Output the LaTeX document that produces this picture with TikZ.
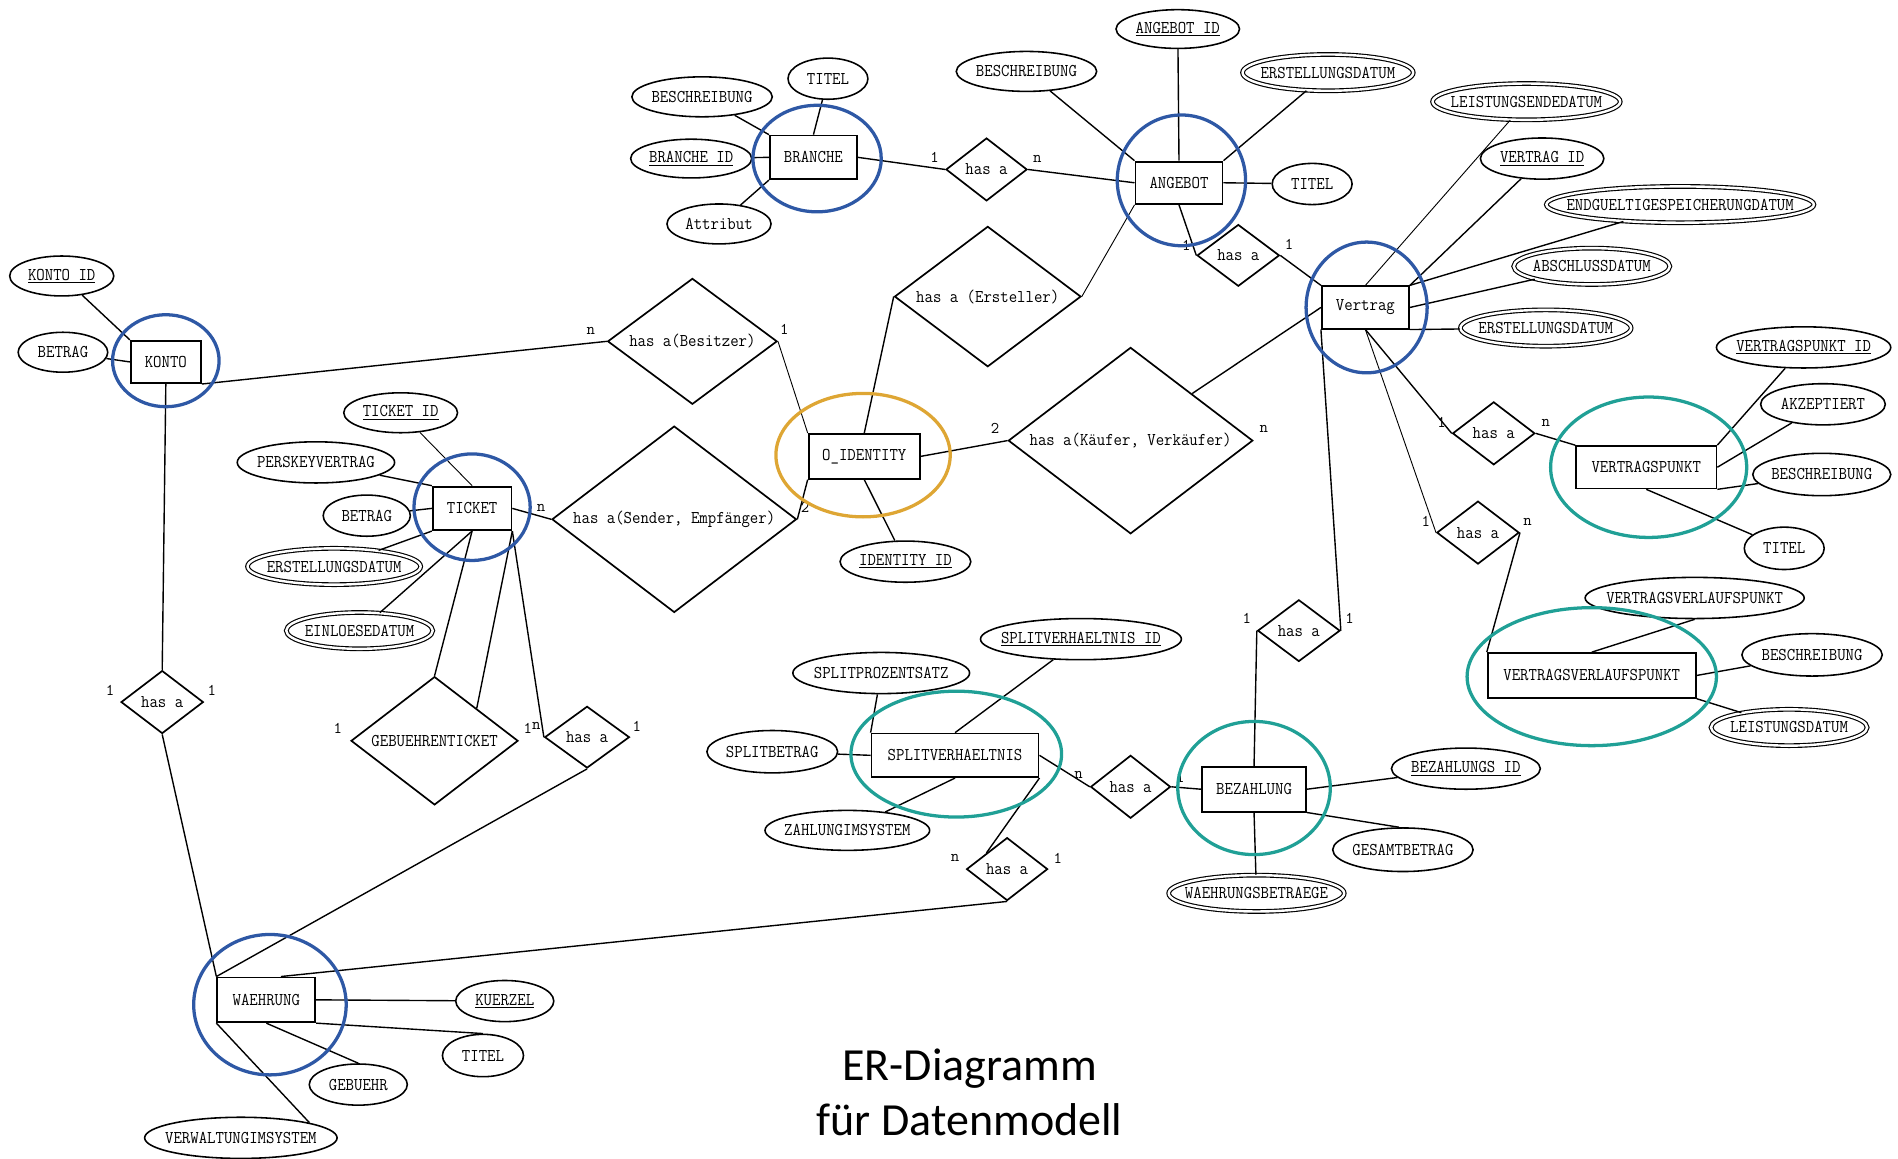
\documentclass[tikz,border=0pt]{standalone}
\usepackage{fontspec}
\usepackage{graphicx}
\newfontfamily\titlefont{Carlito}
\usetikzlibrary{shapes.geometric}
\definecolor{ringblue}{RGB}{46,88,165}
\definecolor{ringteal}{RGB}{32,160,150}
\definecolor{ringgold}{RGB}{222,166,52}
\newcommand\zt[1]{\makebox[0pt]{\scalebox{1}[1.1]{#1}}}
\newcommand\erfont{\ttfamily\fontsize{13.5}{15}\selectfont}
\begin{document}
\begin{tikzpicture}[x=1pt,y=-1pt,
  ent/.style={draw, rectangle, line width=1.5pt, inner sep=0pt, minimum height=35pt, font=\erfont},
  att/.style={draw, ellipse, line width=1.3pt, inner sep=0pt, minimum height=33pt, font=\erfont},
  datt/.style={att, double, double distance=2pt, line width=0.95pt, minimum height=30pt},
  rel/.style={draw, diamond, line width=1.4pt, inner sep=0pt, font=\erfont},
  card/.style={inner sep=0pt, font=\erfont},
  lnk/.style={line width=1.15pt},
  tlnk/.style={line width=0.75pt},
  ring/.style={line width=2.7pt}
]
\useasboundingbox (0,0) rectangle (1568,957);

% KONTO
\node[ent, minimum width=58] (konto) at (137,299) {\zt{KONTO}};
\node[att, minimum width=86] (kontoid) at (51,228) {\zt{\underline{KONTO ID}}};
\node[att, minimum width=74] (kbetrag) at (52,291) {\zt{BETRAG}};
\node[rel, minimum width=68, minimum height=52] (hk) at (134,580) {\zt{has a}};

% BRANCHE
\node[ent, minimum width=72, minimum height=36] (branche) at (672,130) {\zt{BRANCHE}};
\node[att, minimum width=116] (bbesch) at (580,80) {\zt{BESCHREIBUNG}};
\node[att, minimum width=66, minimum height=34] (btitel) at (684,65) {\zt{TITEL}};
\node[att, minimum width=100, minimum height=32] (bid) at (571,131) {\zt{\underline{BRANCHE ID}}};
\node[att, minimum width=86] (battr) at (594,185) {\zt{Attribut}};
\node[rel, minimum width=67, minimum height=52] (hba) at (815,140) {\zt{has a}};

% ANGEBOT
\node[ent, minimum width=72, minimum height=35] (angebot) at (974,151) {\zt{ANGEBOT}};
\node[att, minimum width=102, minimum height=32] (aid) at (973,24) {\zt{\underline{ANGEBOT ID}}};
\node[att, minimum width=116] (abesch) at (848,59) {\zt{BESCHREIBUNG}};
\node[datt, minimum width=141] (aerst) at (1097,60) {\zt{ERSTELLUNGSDATUM}};
\node[att, minimum width=66, minimum height=34] (atitel) at (1084,152) {\zt{TITEL}};
\node[rel, minimum width=68, minimum height=51] (hav) at (1023,211) {\zt{has a}};
\node[rel, minimum width=154, minimum height=116] (erst) at (816,245) {\zt{has a (Ersteller)}};
\node[rel, minimum width=140, minimum height=104] (besitzer) at (572,282) {\zt{has a(Besitzer)}};

% Vertrag
\node[ent, minimum width=72, minimum height=35] (vertrag) at (1128,254) {\zt{Vertrag}};
\node[datt, minimum width=155] (leist) at (1261,84) {\zt{LEISTUNGSENDEDATUM}};
\node[att, minimum width=102, minimum height=34] (vid) at (1274,131) {\zt{\underline{VERTRAG ID}}};
\node[datt, minimum width=221] (endg) at (1388,169) {\zt{ENDGUELTIGESPEICHERUNGDATUM}};
\node[datt, minimum width=129] (absch) at (1315,220) {\zt{ABSCHLUSSDATUM}};
\node[datt, minimum width=141] (verst) at (1277,271) {\zt{ERSTELLUNGSDATUM}};
\node[rel, minimum width=202, minimum height=154] (kv) at (934,364) {\zt{has a(Käufer, Verkäufer)}};

% O_IDENTITY
\node[ent, minimum width=92, minimum height=37] (oid) at (714,377) {\zt{O\_IDENTITY}};
\node[att, minimum width=108, minimum height=34] (identid) at (748,464) {\zt{\underline{IDENTITY ID}}};
\node[rel, minimum width=202, minimum height=154] (sender) at (557,429) {\zt{has a(Sender, Empfänger)}};

% TICKET
\node[ent, minimum width=65, minimum height=36] (ticket) at (390,420) {\zt{TICKET}};
\node[att, minimum width=94] (tid) at (331,341) {\zt{\underline{TICKET ID}}};
\node[att, minimum width=130, minimum height=34] (persk) at (261,382) {\zt{PERSKEYVERTRAG}};
\node[att, minimum width=72, minimum height=34] (tbetrag) at (303,426) {\zt{BETRAG}};
\node[datt, minimum width=143] (terst) at (276,468) {\zt{ERSTELLUNGSDATUM}};
\node[datt, minimum width=121] (einl) at (297,521) {\zt{EINLOESEDATUM}};
\node[rel, minimum width=138, minimum height=106] (geb) at (359,612) {\zt{GEBUEHRENTICKET}};
\node[rel, minimum width=70, minimum height=51] (hst) at (485,609) {\zt{has a}};

% WAEHRUNG
\node[ent, minimum width=81, minimum height=37] (waehrung) at (220,826) {\zt{WAEHRUNG}};
\node[att, minimum width=81, minimum height=34] (kuerzel) at (417,827) {\zt{\underline{KUERZEL}}};
\node[att, minimum width=67, minimum height=35] (wtitel) at (399,872) {\zt{TITEL}};
\node[att, minimum width=81, minimum height=34] (gebuehr) at (296,896) {\zt{GEBUEHR}};
\node[att, minimum width=159, minimum height=34] (verw) at (199,940) {\zt{VERWALTUNGIMSYSTEM}};

% SPLITVERHAELTNIS
\node[ent, minimum width=138, minimum height=36] (split) at (789,624) {\zt{SPLITVERHAELTNIS}};
\node[att, minimum width=166, minimum height=34] (spid) at (893,528) {\zt{\underline{SPLITVERHAELTNIS ID}}};
\node[att, minimum width=146, minimum height=34] (spproz) at (728,556) {\zt{SPLITPROZENTSATZ}};
\node[att, minimum width=108, minimum height=35] (spbetrag) at (638,621) {\zt{SPLITBETRAG}};
\node[att, minimum width=136, minimum height=33] (zahl) at (700,686) {\zt{ZAHLUNGIMSYSTEM}};
\node[rel, minimum width=66, minimum height=52] (hsb) at (934,650) {\zt{has a}};
\node[rel, minimum width=67, minimum height=52] (hsw) at (832,718) {\zt{has a}};

% BEZAHLUNG
\node[ent, minimum width=86, minimum height=37] (bez) at (1036,652) {\zt{BEZAHLUNG}};
\node[att, minimum width=123, minimum height=34] (bezid) at (1211,635) {\zt{\underline{BEZAHLUNGS ID}}};
\node[att, minimum width=116, minimum height=36] (gesamt) at (1159,702) {\zt{GESAMTBETRAG}};
\node[datt, minimum width=145] (wbetr) at (1038,738) {\zt{WAEHRUNGSBETRAEGE}};
\node[rel, minimum width=68, minimum height=51] (hbz) at (1073,521) {\zt{has a}};

% VERTRAGSPUNKT
\node[ent, minimum width=116, minimum height=35] (vp) at (1360,386) {\zt{VERTRAGSPUNKT}};
\node[rel, minimum width=68, minimum height=52] (hvp) at (1234,358) {\zt{has a}};
\node[att, minimum width=144, minimum height=34] (vpid) at (1490,287) {\zt{\underline{VERTRAGSPUNKT ID}}};
\node[att, minimum width=103, minimum height=34] (akz) at (1506,334) {\zt{AKZEPTIERT}};
\node[att, minimum width=114, minimum height=35] (vpb) at (1505,392) {\zt{BESCHREIBUNG}};
\node[att, minimum width=66, minimum height=35] (vpt) at (1474,453) {\zt{TITEL}};

% VERTRAGSVERLAUFSPUNKT
\node[ent, minimum width=172, minimum height=37] (vvp) at (1315,558) {\zt{VERTRAGSVERLAUFSPUNKT}};
\node[rel, minimum width=68, minimum height=52] (hvvp) at (1221,440) {\zt{has a}};
\node[att, minimum width=181, minimum height=34] (vvpa) at (1400,494) {\zt{VERTRAGSVERLAUFSPUNKT}};
\node[att, minimum width=116, minimum height=35] (vvpb) at (1497,541) {\zt{BESCHREIBUNG}};
\node[datt, minimum width=129] (leistd) at (1478,601) {\zt{LEISTUNGSDATUM}};

% cardinalities
\node[card] (c1) at (488,273) {n};
\node[card] (c2) at (648,272) {1};
\node[card] (c3) at (772,130) {1};
\node[card] (c4) at (857,131) {n};
\node[card] (c5) at (980,203) {1};
\node[card] (c6) at (1065,202) {1};
\node[card] (c7) at (822,354) {2};
\node[card] (c8) at (1044,354) {n};
\node[card] (c9) at (447,420) {n};
\node[card] (c10) at (665,419) {2};
\node[card] (c11) at (91,570) {1};
\node[card] (c12) at (175,570) {1};
\node[card] (c13) at (279,602) {1};
\node[card] (c14) at (436,602) {1};
\node[card] (c15) at (443,600) {n};
\node[card] (c16) at (526,600) {1};
\node[card] (c17) at (1191,349) {1};
\node[card] (c18) at (1277,349) {n};
\node[card] (c19) at (1178,431) {1};
\node[card] (c20) at (1262,431) {n};
\node[card] (c21) at (1030,511) {1};
\node[card] (c22) at (1115,511) {1};
\node[card] (c23) at (891,640) {n};
\node[card] (c24) at (975,642) {1};
\node[card] (c25) at (789,709) {n};
\node[card] (c26) at (874,709) {1};

% title
\node[anchor=base, inner sep=0pt, font=\titlefont\fontsize{38}{45}\selectfont] (t1) at (801,893) {ER-Diagramm};
\node[anchor=base, inner sep=0pt, font=\titlefont\fontsize{38}{45}\selectfont] (t2) at (801,938) {für Datenmodell};

% connectors
\draw[lnk] (kontoid) -- (konto.north west);
\draw[lnk] (kbetrag) -- (konto.west);
\draw[lnk] (konto.south east) -- (besitzer.west);
\draw[tlnk] (besitzer.east) -- (oid.north west);
\draw[lnk] (konto.south) -- (hk.north);
\draw[lnk] (hk.south) -- (waehrung.north west);

\draw[lnk] (bbesch) -- (branche.north west);
\draw[lnk] (btitel) -- (branche.north);
\draw[lnk] (bid) -- (branche.west);
\draw[lnk] (battr) -- (branche.south west);
\draw[lnk] (branche.east) -- (hba.west);
\draw[lnk] (hba.east) -- (angebot.west);

\draw[lnk] (aid) -- (angebot.north);
\draw[lnk] (abesch) -- (angebot.north west);
\draw[lnk] (aerst) -- (angebot.north east);
\draw[lnk] (angebot.east) -- (atitel);
\draw[lnk] (angebot.south) -- (hav.west);
\draw[lnk] (hav.east) -- (vertrag.north west);
\draw[tlnk] (angebot.south west) -- (erst.east);
\draw[lnk] (erst.west) -- (oid.north);

\draw[tlnk] (leist) -- (vertrag.north);
\draw[lnk] (vid) -- (vertrag.north east);
\draw[lnk] (endg) -- (vertrag.north east);
\draw[lnk] (absch) -- (vertrag.east);
\draw[lnk] (verst) -- (vertrag.south east);
\draw[lnk] (vertrag.west) -- (kv.north east);
\draw[lnk] (oid.east) -- (kv.west);

\draw[lnk] (vertrag.south) -- (hvp.west);
\draw[lnk] (hvp.east) -- (vp.north west);
\draw[tlnk] (vertrag.south) -- (hvvp.west);
\draw[lnk] (hvvp.east) -- (vvp.north west);
\draw[lnk] (vertrag.south west) -- (hbz.east);
\draw[lnk] (hbz.west) -- (bez.north);

\draw[lnk] (vpid) -- (vp.north east);
\draw[lnk] (akz) -- (vp.east);
\draw[lnk] (vpb) -- (vp.south east);
\draw[lnk] (vpt) -- (vp.south);

\draw[lnk] (vvpa.south) -- (vvp.north);
\draw[lnk] (vvpb) -- (vvp.east);
\draw[lnk] (leistd) -- (vvp.south east);

\draw[lnk] (bezid) -- (bez.east);
\draw[lnk] (gesamt.100) -- (bez.south east);
\draw[lnk] (wbetr) -- (bez.south);
\draw[lnk] (split.east) -- (hsb.west);
\draw[lnk] (hsb.east) -- (bez.west);

\draw[lnk] (spid) -- (split.north);
\draw[lnk] (spproz) -- (split.north west);
\draw[lnk] (spbetrag) -- (split.west);
\draw[lnk] (zahl) -- (split.south);
\draw[lnk] (split.south east) -- (hsw.north west);
\draw[lnk] (hsw.south) -- (waehrung.58);

\draw[lnk] (oid.south) -- (identid);
\draw[lnk] (ticket.east) -- (sender.west);
\draw[lnk] (sender.east) -- (oid.south west);

\draw[tlnk] (tid) -- (ticket.north);
\draw[lnk] (persk) -- (ticket.north west);
\draw[lnk] (tbetrag) -- (ticket.west);
\draw[lnk] (terst) -- (ticket.south west);
\draw[lnk] (ticket.south) -- (einl);
\draw[lnk] (ticket.south) -- (geb.north);
\draw[lnk] (ticket.south east) -- (geb.north east);
\draw[lnk] (ticket.south east) -- (hst.west);
\draw[lnk] (hst.south) -- (waehrung.north west);

\draw[lnk] (waehrung.east) -- (kuerzel);
\draw[lnk] (waehrung.south east) -- (wtitel.north);
\draw[lnk] (waehrung.south) -- (gebuehr.north);
\draw[lnk] (waehrung.south west) -- (verw.north east);

% highlight rings
\draw[ring, ringblue] (137,298) ellipse [x radius=44pt, y radius=38pt];
\draw[ring, ringblue] (675,131) ellipse [x radius=53pt, y radius=44pt];
\draw[ring, ringblue] (976,149) ellipse [x radius=53pt, y radius=54pt];
\draw[ring, ringblue] (1129,254) ellipse [x radius=50pt, y radius=54pt];
\draw[ring, ringblue] (390,419) ellipse [x radius=48pt, y radius=44pt];
\draw[ring, ringblue] (223,830) ellipse [x radius=63pt, y radius=58pt];
\draw[ring, ringteal] (1362,386) ellipse [x radius=81pt, y radius=58pt];
\draw[ring, ringteal] (1315,559) ellipse [x radius=103pt, y radius=57pt];
\draw[ring, ringteal] (790,623) ellipse [x radius=87pt, y radius=52pt];
\draw[ring, ringteal] (1036,651) ellipse [x radius=63pt, y radius=55pt];
\draw[ring, ringgold] (713,376) ellipse [x radius=72pt, y radius=51pt];
\end{tikzpicture}
\end{document}
